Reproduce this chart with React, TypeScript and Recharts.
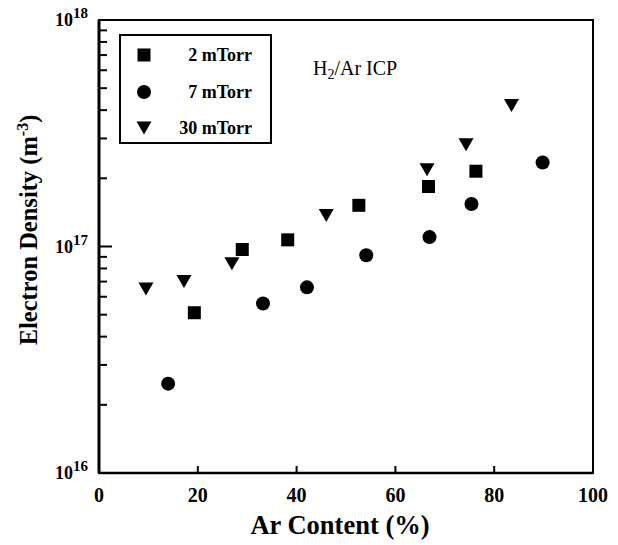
import { ScatterChart, Scatter, XAxis, YAxis, ReferenceArea } from 'recharts'

const xTicks = [0, 20, 40, 60, 80, 100]
const yMajorTicks = [1e16, 1e17, 1e18]
const yMinorTicks = [
  2e16, 3e16, 4e16, 5e16, 6e16, 7e16, 8e16, 9e16,
  2e17, 3e17, 4e17, 5e17, 6e17, 7e17, 8e17, 9e17,
]

// 2 mTorr
const arContent2 = [19.3, 29.0, 38.2, 52.6, 66.7, 76.3]
const density2 = [5.1e16, 9.7e16, 1.07e17, 1.52e17, 1.84e17, 2.15e17]
// 7 mTorr
const arContent7 = [14.0, 33.2, 42.1, 54.1, 66.9, 75.4, 89.8]
const density7 = [2.48e16, 5.6e16, 6.6e16, 9.15e16, 1.1e17, 1.54e17, 2.35e17]
// 30 mTorr
const arContent30 = [9.5, 17.2, 26.9, 46.0, 66.4, 74.3, 83.5]
const density30 = [6.5e16, 7.0e16, 8.4e16, 1.37e17, 2.18e17, 2.81e17, 4.19e17]

const toPoints = (xs: number[], ys: number[]) => xs.map((x, i) => ({ x, y: ys[i] }))
const minorTickPoints = yMinorTicks.map((y) => ({ x: 0, y }))

const FONT = '"Liberation Serif", "Times New Roman", serif'

const SquareShape = (p: any) => <rect x={p.cx - 6.5} y={p.cy - 6.5} width={13} height={13} fill="#000" />
const CircleShape = (p: any) => <circle cx={p.cx} cy={p.cy} r={7} fill="#000" />
const TriShape = (p: any) => (
  <path d={`M${p.cx - 7.5},${p.cy - 6.5} L${p.cx + 7.5},${p.cy - 6.5} L${p.cx},${p.cy + 6.5} Z`} fill="#000" />
)
// inward minor tick on the left axis
const MinorTickShape = (p: any) => (
  <line x1={p.cx} x2={p.cx + 8} y1={p.cy} y2={p.cy} stroke="#000" strokeWidth={2} />
)

const YTick = (props: any) => {
  const { x, y, payload } = props
  const exp = Math.round(Math.log10(payload.value))
  return (
    <g>
      <line x1={x} x2={x + 13} y1={y} y2={y} stroke="#000" strokeWidth={2} />
      <text x={x - 11} y={y + 6} textAnchor="end" fontFamily={FONT} fontWeight="bold" fontSize={18} fill="#000">
        10<tspan dy={-8} fontSize={15}>{exp}</tspan>
      </text>
    </g>
  )
}

const XTick = (props: any) => {
  const { x, y, payload } = props
  return (
    <g>
      <line x1={x} x2={x} y1={y} y2={y - 7} stroke="#000" strokeWidth={2} />
      <text x={x} y={y + 29} textAnchor="middle" fontFamily={FONT} fontWeight="bold" fontSize={20} fill="#000">
        {payload.value}
      </text>
    </g>
  )
}

const YLabel = () => (
  <text
    transform="translate(37, 230) rotate(-90)"
    textAnchor="middle"
    fontFamily={FONT}
    fontWeight="bold"
    fontSize={24.5}
    fill="#000"
  >
    Electron Density (m<tspan dy={-9} fontSize={16}>-3</tspan><tspan dy={9}>)</tspan>
  </text>
)

const XLabel = () => (
  <text x={340} y={534} textAnchor="middle" fontFamily={FONT} fontWeight="bold" fontSize={26.5} fill="#000">
    Ar Content (%)
  </text>
)

const legendItems = [
  { label: '2 mTorr', shape: 'square' },
  { label: '7 mTorr', shape: 'circle' },
  { label: '30 mTorr', shape: 'tri' },
]

const LegendBox = () => (
  <div
    style={{
      position: 'absolute',
      left: 119,
      top: 34,
      width: 149,
      height: 106,
      border: '2px solid #000',
      fontFamily: FONT,
      fontWeight: 'bold',
      fontSize: 18,
      background: '#fff',
    }}
  >
    {legendItems.map((it, i) => (
      <div key={it.label} style={{ position: 'absolute', left: 0, top: 8 + i * 36.5, width: 149, height: 22 }}>
        <svg width={20} height={20} style={{ position: 'absolute', left: 13, top: 1 }}>
          {it.shape === 'square' && <rect x={3.5} y={3.5} width={13} height={13} fill="#000" />}
          {it.shape === 'circle' && <circle cx={10} cy={10} r={7} fill="#000" />}
          {it.shape === 'tri' && <path d="M2.5,3.5 L17.5,3.5 L10,16.5 Z" fill="#000" />}
        </svg>
        <span style={{ position: 'absolute', right: 18, top: 0, lineHeight: '22px' }}>{it.label}</span>
      </div>
    ))}
  </div>
)

export default function App() {
  return (
    <div style={{ position: 'absolute', left: 0, top: 0, width: 618, height: 545, background: '#fff' }}>
      <ScatterChart width={618} height={545} margin={{ top: 20, right: 25, bottom: 0, left: 0 }}>
        <XAxis
          type="number"
          dataKey="x"
          domain={[0, 100]}
          ticks={xTicks}
          height={72}
          tickSize={0}
          tickMargin={0}
          tickLine={false}
          tick={<XTick />}
          axisLine={{ stroke: '#000', strokeWidth: 2.5 }}
          label={<XLabel />}
        />
        <YAxis
          type="number"
          dataKey="y"
          scale="log"
          domain={[1e16, 1e18]}
          ticks={yMajorTicks}
          interval={0}
          allowDataOverflow
          width={99}
          tickSize={0}
          tickMargin={0}
          tickLine={false}
          tick={<YTick />}
          axisLine={{ stroke: '#000', strokeWidth: 3 }}
          label={<YLabel />}
        />
        <ReferenceArea x1={0} x2={100} y1={1e16} y2={1e18} fill="none" stroke="#000" strokeWidth={2} ifOverflow="visible" />
        <Scatter name="minor" data={minorTickPoints} shape={MinorTickShape} legendType="none" isAnimationActive={false} />
        <Scatter name="2 mTorr" data={toPoints(arContent2, density2)} shape={SquareShape} isAnimationActive={false} />
        <Scatter name="7 mTorr" data={toPoints(arContent7, density7)} shape={CircleShape} isAnimationActive={false} />
        <Scatter name="30 mTorr" data={toPoints(arContent30, density30)} shape={TriShape} isAnimationActive={false} />
      </ScatterChart>
      <LegendBox />
      <div style={{ position: 'absolute', left: 313, top: 57, fontFamily: FONT, fontSize: 20, color: '#000', whiteSpace: 'nowrap' }}>
        H<sub style={{ fontSize: 14, verticalAlign: -4 }}>2</sub>/Ar ICP
      </div>
    </div>
  )
}
